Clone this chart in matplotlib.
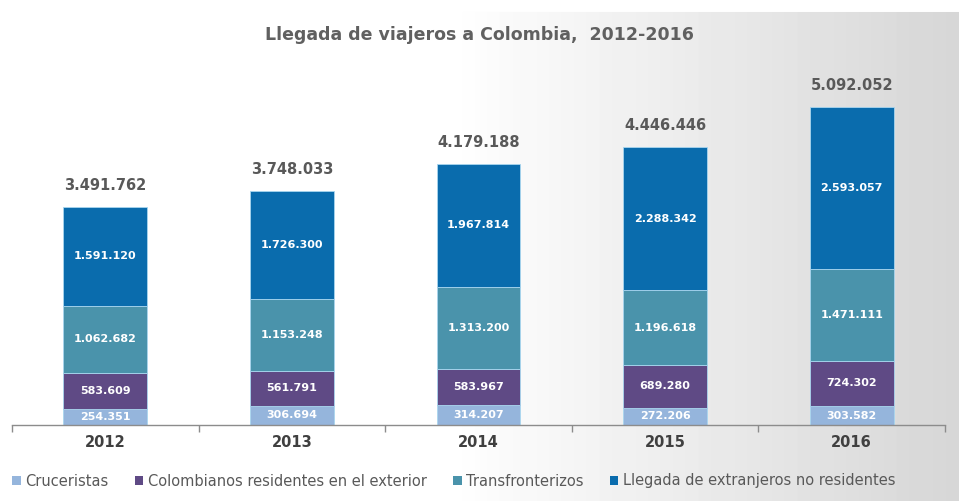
import matplotlib
matplotlib.use("Agg")
import matplotlib.pyplot as plt
import numpy as np
from matplotlib.patches import Patch

years = ["2012", "2013", "2014", "2015", "2016"]
cruceristas = [254351, 306694, 314207, 272206, 303582]
colombianos = [583609, 561791, 583967, 689280, 724302]
transfronterizos = [1062682, 1153248, 1313200, 1196618, 1471111]
extranjeros = [1591120, 1726300, 1967814, 2288342, 2593057]
totales = [3491762, 3748033, 4179188, 4446446, 5092052]

series_names = ["Cruceristas", "Colombianos residentes en el exterior",
                "Transfronterizos", "Llegada de extranjeros no residentes"]
series_vals = [cruceristas, colombianos, transfronterizos, extranjeros]
series_colors = ["#95b5dc", "#5f4a85", "#4a93ab", "#0a6cad"]


def fmt(v):
    return f"{v:,}".replace(",", ".")


plt.rcParams['font.family'] = ['DejaVu Sans']
fig = plt.figure(figsize=(9.59, 5.01), dpi=100)

# background: white on the left fading to light grey on the right
bg = fig.add_axes([0, 0, 1, 1], zorder=-10)
w = 959
xs = np.linspace(0, 1, w)
t = np.clip((xs - 0.47) / 0.53, 0, 1)
shade = 1.0 - 0.16 * t
img = np.tile(shade, (501, 1))
img[:12, :] = 1.0
bg.imshow(img, cmap="gray", vmin=0, vmax=1, aspect="auto",
          extent=[0, 1, 0, 1], interpolation="bilinear")
bg.set_axis_off()

ax = fig.add_axes([12 / 959, 1 - 425 / 501, (945 - 12) / 959, (425 - 60) / 501])
ax.set_facecolor("none")

x = np.arange(len(years))
bottom = np.zeros(len(years))
bw = 0.45
for name, vals, col in zip(series_names, series_vals, series_colors):
    vals = np.array(vals, dtype=float)
    ax.bar(x, vals, bw, bottom=bottom, color=col, label=name,
           edgecolor="#a9d6ef", linewidth=0.6, zorder=2)
    for xi, b, v in zip(x, bottom, vals):
        ax.text(xi, b + v / 2, fmt(int(v)), ha="center", va="center",
                color="white", fontsize=8, fontweight="bold", zorder=3)
    bottom += vals

for xi, tot in zip(x, totales):
    ax.text(xi, tot + 220000, fmt(tot), ha="center", va="bottom",
            color="#595959", fontsize=10.5, fontweight="bold")

ax.set_xlim(-0.5, len(years) - 0.5)
ax.set_ylim(0, 5.84e6)
ax.set_yticks([])
for s in ["top", "right", "left"]:
    ax.spines[s].set_visible(False)
ax.spines["bottom"].set_color("#8c8c8c")
ax.spines["bottom"].set_linewidth(1)

ax.set_xticks(x)
ax.set_xticklabels(years, fontsize=10.5, fontweight="bold", color="#404040")
ax.tick_params(axis="x", which="major", length=0, pad=7)
ax.set_xticks(np.arange(-0.5, len(years), 1.0), minor=True)
ax.tick_params(axis="x", which="minor", length=5, color="#8c8c8c", width=1)

fig.text(0.5, 1 - 35 / 501, "Llegada de viajeros a Colombia,  2012-2016",
         ha="center", va="center", fontsize=12.5, fontweight="bold", color="#606060")

handles = [Patch(facecolor=c, edgecolor="none") for c in series_colors]
fig.legend(handles, series_names, loc="center", bbox_to_anchor=(0.473, 1 - 481 / 501),
           ncol=4, frameon=False, fontsize=10.5, handlelength=0.6, handleheight=0.6,
           handletextpad=0.3, columnspacing=1.8, labelcolor="#595959")

fig.savefig("out.png", dpi=100)
